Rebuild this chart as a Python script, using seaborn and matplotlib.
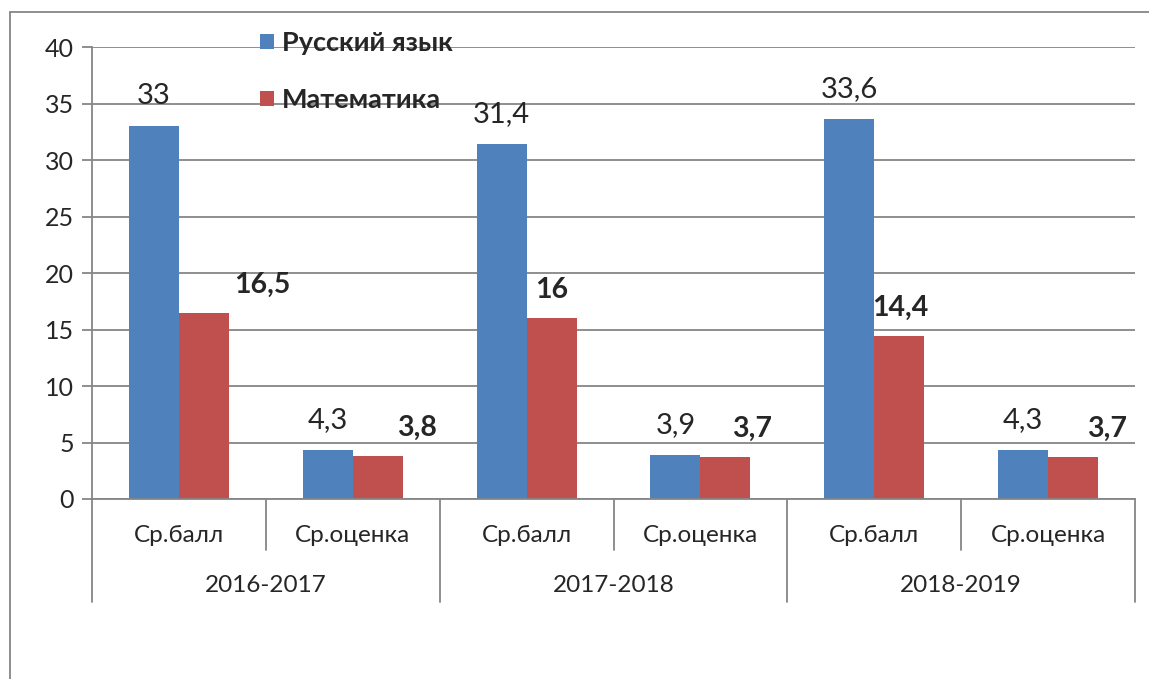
import matplotlib
matplotlib.use("Agg")
import matplotlib.pyplot as plt
import seaborn as sns
import pandas as pd
from matplotlib.patches import Rectangle

# ---------------------------------------------------------------------
# data
# ---------------------------------------------------------------------
years = ["2016-2017", "2017-2018", "2018-2019"]
measures = ["Ср.балл", "Ср.оценка"]
subjects = ["Русский язык", "Математика"]
russian = [33, 4.3, 31.4, 3.9, 33.6, 4.3]
math = [16.5, 3.8, 16, 3.7, 14.4, 3.7]

# horizontal nudges (pixels) of the bold math labels, as placed in the original
math_label_dx = [58, 39, 0, 27, 1, 34]

BLUE = "#4F81BD"
RED = "#C0504D"
GRID = "#868686"

cats = [f"{y} {m}" for y in years for m in measures]
df = pd.DataFrame({
    "cat": cats * 2,
    "value": russian + math,
    "subject": [subjects[0]] * len(cats) + [subjects[1]] * len(cats),
})

sns.set_style("white")
plt.rcParams["font.family"] = ["Lato", "Noto Sans", "DejaVu Sans"]

DPI = 100
fig = plt.figure(figsize=(11.49, 6.79), dpi=DPI)
ax = fig.add_axes([92 / 1149, 1 - 499 / 679, (1135 - 92) / 1149, (499 - 47) / 679])

sns.barplot(data=df, x="cat", y="value", hue="subject", order=cats,
            hue_order=subjects, palette=[BLUE, RED], width=0.575,
            saturation=1, linewidth=0, ax=ax)

ax.set_xlim(-0.5, len(cats) - 0.5)
ax.set_ylim(0, 40)
ax.set_yticks(range(0, 41, 5))
ax.yaxis.grid(True, color=GRID, linewidth=1.3)
ax.set_axisbelow(True)
ax.tick_params(axis="y", labelsize=18, length=7, width=1.3, color=GRID, pad=6, left=True)
ax.tick_params(axis="x", bottom=False, labelbottom=False)
ax.set_xlabel("")
ax.set_ylabel("")
for s in ["top", "right"]:
    ax.spines[s].set_visible(False)
for s in ["left", "bottom"]:
    ax.spines[s].set_color(GRID)
    ax.spines[s].set_linewidth(1.3)

# data labels
px = 72 / DPI
for i, bar in enumerate(ax.containers[0]):
    x = bar.get_x() + bar.get_width() / 2
    h = bar.get_height()
    ax.annotate(f"{russian[i]:g}".replace(".", ","), (x, h), xytext=(0, 30 * px),
                textcoords="offset points", ha="center", va="center", fontsize=21)
for i, bar in enumerate(ax.containers[1]):
    x = bar.get_x() + bar.get_width() / 2
    h = bar.get_height()
    ax.annotate(f"{math[i]:g}".replace(".", ","), (x, h),
                xytext=(math_label_dx[i] * px, 28 * px),
                textcoords="offset points", ha="center", va="center",
                fontsize=20.5, fontweight="bold")

# two-level category axis
trans = ax.get_xaxis_transform()
ah = 452.0
for i, c in enumerate(cats):
    ax.text(i, -36 / ah, measures[i % 2], transform=trans, ha="center",
            va="center", fontsize=17.5)
for j, y in enumerate(years):
    ax.text(2 * j + 0.5, -86 / ah, y, transform=trans, ha="center",
            va="center", fontsize=17.5)
for k in range(len(cats) + 1):
    xb = k - 0.5
    y_end = -103 / ah if k % 2 == 0 else -51 / ah
    ax.plot([xb, xb], [0, y_end], transform=trans, color=GRID,
            linewidth=1.3, clip_on=False)

# legend
leg = fig.legend(loc="upper left", bbox_to_anchor=(260 / 1149, 1 - 31 / 679),
                 frameon=False, prop={"size": 19.5, "weight": "bold"},
                 handlelength=0.52, handleheight=0.52, handletextpad=0.3,
                 labelspacing=1.22, borderpad=0, borderaxespad=0)
ax.get_legend().remove()
fig.legends = [leg]

# outer chart frame
fig.patches.append(Rectangle((10 / 1149, -0.5), 1.2, 1.5 - 12 / 679,
                             transform=fig.transFigure, fill=False,
                             edgecolor=GRID, linewidth=1.3))

fig.savefig("out.png", dpi=DPI)
